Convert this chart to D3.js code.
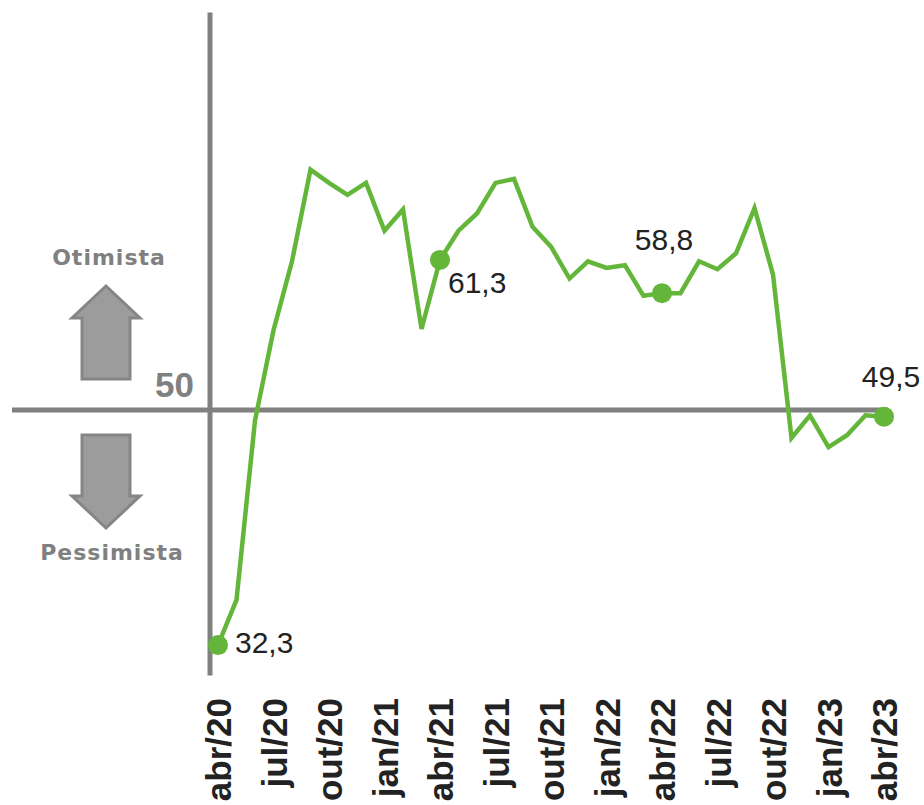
<!DOCTYPE html>
<html>
<head>
<meta charset="utf-8">
<script src="https://cdn.jsdelivr.net/npm/d3@7"></script>
<style>
  html, body { margin: 0; padding: 0; background: #fff; }
  svg { display: block; }
</style>
</head>
<body>
<script>
// ---- data ----
const months = [
  "abr/20","mai/20","jun/20","jul/20","ago/20","set/20","out/20","nov/20","dez/20",
  "jan/21","fev/21","mar/21","abr/21","mai/21","jun/21","jul/21","ago/21","set/21",
  "out/21","nov/21","dez/21","jan/22","fev/22","mar/22","abr/22","mai/22","jun/22",
  "jul/22","ago/22","set/22","out/22","nov/22","dez/22","jan/23","fev/23","mar/23","abr/23"
];
const values = [
  32.3, 35.7, 49.2, 56.0, 61.2, 68.1, 67.1, 66.2, 67.1,
  63.5, 65.1, 56.1, 61.3, 63.5, 64.8, 67.1, 67.4, 63.8,
  62.3, 59.9, 61.2, 60.7, 60.9, 58.6, 58.8, 58.8, 61.2,
  60.6, 61.8, 65.2, 60.2, 47.9, 49.6, 47.2, 48.1, 49.6, 49.5
];
const tickLabels = ["abr/20","jul/20","out/20","jan/21","abr/21","jul/21","out/21",
                    "jan/22","abr/22","jul/22","out/22","jan/23","abr/23"];
const highlighted = ["abr/20","abr/21","abr/22","abr/23"];
const neutral = 50;
const sideLabels = ["Otimista","Pessimista"];

// ---- setup ----
const W = 924, H = 805;
const svg = d3.select("body").append("svg").attr("width", W).attr("height", H);
svg.append("rect").attr("width", W).attr("height", H).attr("fill", "#fff");

const x = d3.scalePoint().domain(months).range([218, 884]);
const y = d3.scaleLinear().domain([30, 80]).range([675.6, 11.6]);

const data = months.map((m, i) => ({ m, v: values[i] }));
const axisX = 210;
const grey = "#808080";
const green = "#64b63a";

// vertical axis
svg.append("line")
  .attr("x1", axisX).attr("x2", axisX)
  .attr("y1", y(80) + 1).attr("y2", y(30))
  .attr("stroke", grey).attr("stroke-width", 5);

// horizontal 50 line
svg.append("line")
  .attr("x1", 12).attr("x2", x(months[months.length - 1]) + 4)
  .attr("y1", y(neutral)).attr("y2", y(neutral))
  .attr("stroke", grey).attr("stroke-width", 5);

// "50" label
svg.append("text")
  .attr("x", 194).attr("y", y(neutral) - 13)
  .attr("text-anchor", "end")
  .attr("font-family", "'Liberation Sans Narrow', 'Liberation Sans', Arial, sans-serif")
  .attr("font-weight", "bold").attr("font-size", 35)
  .attr("fill", grey)
  .text(String(neutral));

// arrows
const arrowUp = "M0,-62 L34,-30 L24,-30 L24,31 L-24,31 L-24,-30 L-34,-30 Z";
svg.append("path")
  .attr("d", arrowUp)
  .attr("transform", `translate(106,${y(neutral) - 62})`)
  .attr("fill", "#9c9c9c").attr("stroke", "#858585").attr("stroke-width", 3)
  .attr("stroke-linejoin", "miter");
svg.append("path")
  .attr("d", arrowUp)
  .attr("transform", `translate(106,${y(neutral) + 56}) rotate(180)`)
  .attr("fill", "#9c9c9c").attr("stroke", "#858585").attr("stroke-width", 3);

// side labels
svg.append("text")
  .attr("x", 109).attr("y", 265)
  .attr("text-anchor", "middle")
  .attr("font-family", "'DejaVu Sans', Verdana, sans-serif")
  .attr("font-weight", "bold").attr("font-size", 22)
  .attr("letter-spacing", 1)
  .attr("fill", grey)
  .text(sideLabels[0]);
svg.append("text")
  .attr("x", 112).attr("y", 560)
  .attr("text-anchor", "middle")
  .attr("font-family", "'DejaVu Sans', Verdana, sans-serif")
  .attr("font-weight", "bold").attr("font-size", 22)
  .attr("letter-spacing", 1)
  .attr("fill", grey)
  .text(sideLabels[1]);

// line
const line = d3.line().x(d => x(d.m)).y(d => y(d.v));
svg.append("path")
  .datum(data)
  .attr("d", line)
  .attr("fill", "none")
  .attr("stroke", green)
  .attr("stroke-width", 4.5)
  .attr("stroke-linejoin", "miter");

// highlighted dots + labels
const fmt = v => v.toFixed(1).replace(".", ",");
const labelPos = {
  "abr/20": { dx: 17, dy: 8, anchor: "start" },
  "abr/21": { dx: 8, dy: 33, anchor: "start" },
  "abr/22": { dx: 2, dy: -43, anchor: "middle" },
  "abr/23": { dx: 7, dy: -30, anchor: "middle" }
};
const hl = data.filter(d => highlighted.includes(d.m));
svg.selectAll("circle.hl").data(hl).join("circle")
  .attr("class", "hl")
  .attr("cx", d => x(d.m)).attr("cy", d => y(d.v))
  .attr("r", 10).attr("fill", green);
svg.selectAll("text.val").data(hl).join("text")
  .attr("class", "val")
  .attr("x", d => x(d.m) + labelPos[d.m].dx)
  .attr("y", d => y(d.v) + labelPos[d.m].dy)
  .attr("text-anchor", d => labelPos[d.m].anchor)
  .attr("font-family", "'Liberation Sans', Arial, sans-serif")
  .attr("font-size", 30)
  .attr("fill", "#222")
  .text(d => fmt(d.v));

// x tick labels
const xAxis = d3.axisBottom(x).tickValues(tickLabels).tickSize(0).tickPadding(0);
const gx = svg.append("g").attr("transform", "translate(0,698)").call(xAxis);
gx.select(".domain").remove();
gx.selectAll(".tick text")
  .attr("transform", "rotate(-90)")
  .attr("x", 0).attr("y", 0).attr("dy", "0.36em")
  .attr("text-anchor", "end")
  .attr("font-family", "'Liberation Sans', Arial, sans-serif")
  .attr("font-weight", "bold").attr("font-size", 35)
  .attr("fill", "#222");
</script>
</body>
</html>
